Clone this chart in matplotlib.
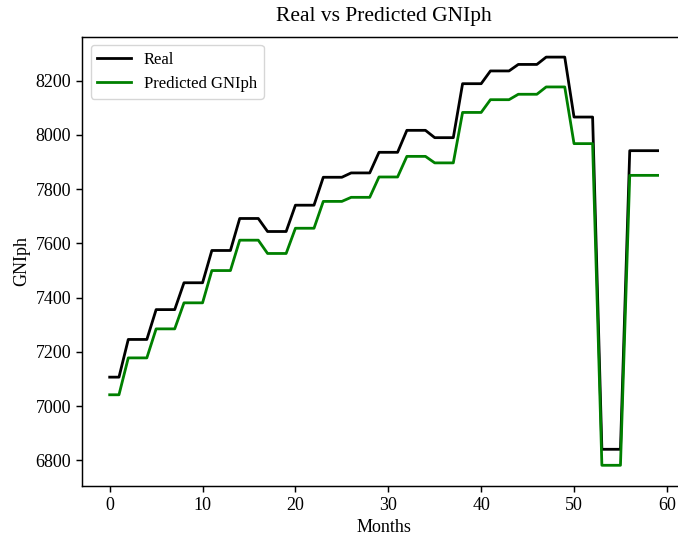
import numpy as np
import matplotlib
matplotlib.use("Agg")
import matplotlib.pyplot as plt

plt.rcParams["font.family"] = ["Liberation Serif", "DejaVu Serif"]
plt.rcParams["font.size"] = 13
plt.rcParams["axes.titlesize"] = 15.5
plt.rcParams["axes.labelsize"] = 13
plt.rcParams["xtick.labelsize"] = 13
plt.rcParams["ytick.labelsize"] = 13
plt.rcParams["legend.fontsize"] = 12
plt.rcParams["lines.linewidth"] = 2.0
plt.rcParams["axes.linewidth"] = 1.05
plt.rcParams["xtick.major.size"] = 4.5
plt.rcParams["ytick.major.size"] = 4.5
plt.rcParams["xtick.major.width"] = 1.05
plt.rcParams["ytick.major.width"] = 1.05

# Quarterly figures repeated monthly (first quarter only has two months shown)
months = list(range(60))

real_quarters = [7107, 7246, 7356, 7455, 7574, 7692, 7644, 7741, 7844, 7860,
                 7936, 8017, 7990, 8189, 8236, 8260, 8287, 8066, 6841, 7942]
pred_quarters = [7042, 7178, 7285, 7381, 7500, 7612, 7563, 7656, 7755, 7770,
                 7845, 7921, 7897, 8083, 8130, 8150, 8177, 7968, 6782, 7851]
months_per_quarter = [2, 3, 3, 3, 3, 3, 3, 3, 3, 3,
                      3, 3, 3, 3, 3, 3, 3, 3, 3, 4]

real = np.repeat(real_quarters, months_per_quarter)
predicted = np.repeat(pred_quarters, months_per_quarter)

fig = plt.figure(figsize=(6.78, 5.38), dpi=100)
ax = fig.add_axes([82.3 / 678, 1 - 485.7 / 538, (685 - 82.3) / 678, (485.7 - 36.7) / 538])

ax.plot(months, real, color="black", label="Real")
ax.plot(months, predicted, color="green", label="Predicted GNIph")

# the reference is cropped just before the right-hand frame line
ax.spines["right"].set_visible(False)

ax.set_title("Real vs Predicted GNIph", pad=11)
ax.set_xlabel("Months")
ax.set_ylabel("GNIph")
ax.legend(loc="upper left")

fig.savefig("out.png", dpi=100)
